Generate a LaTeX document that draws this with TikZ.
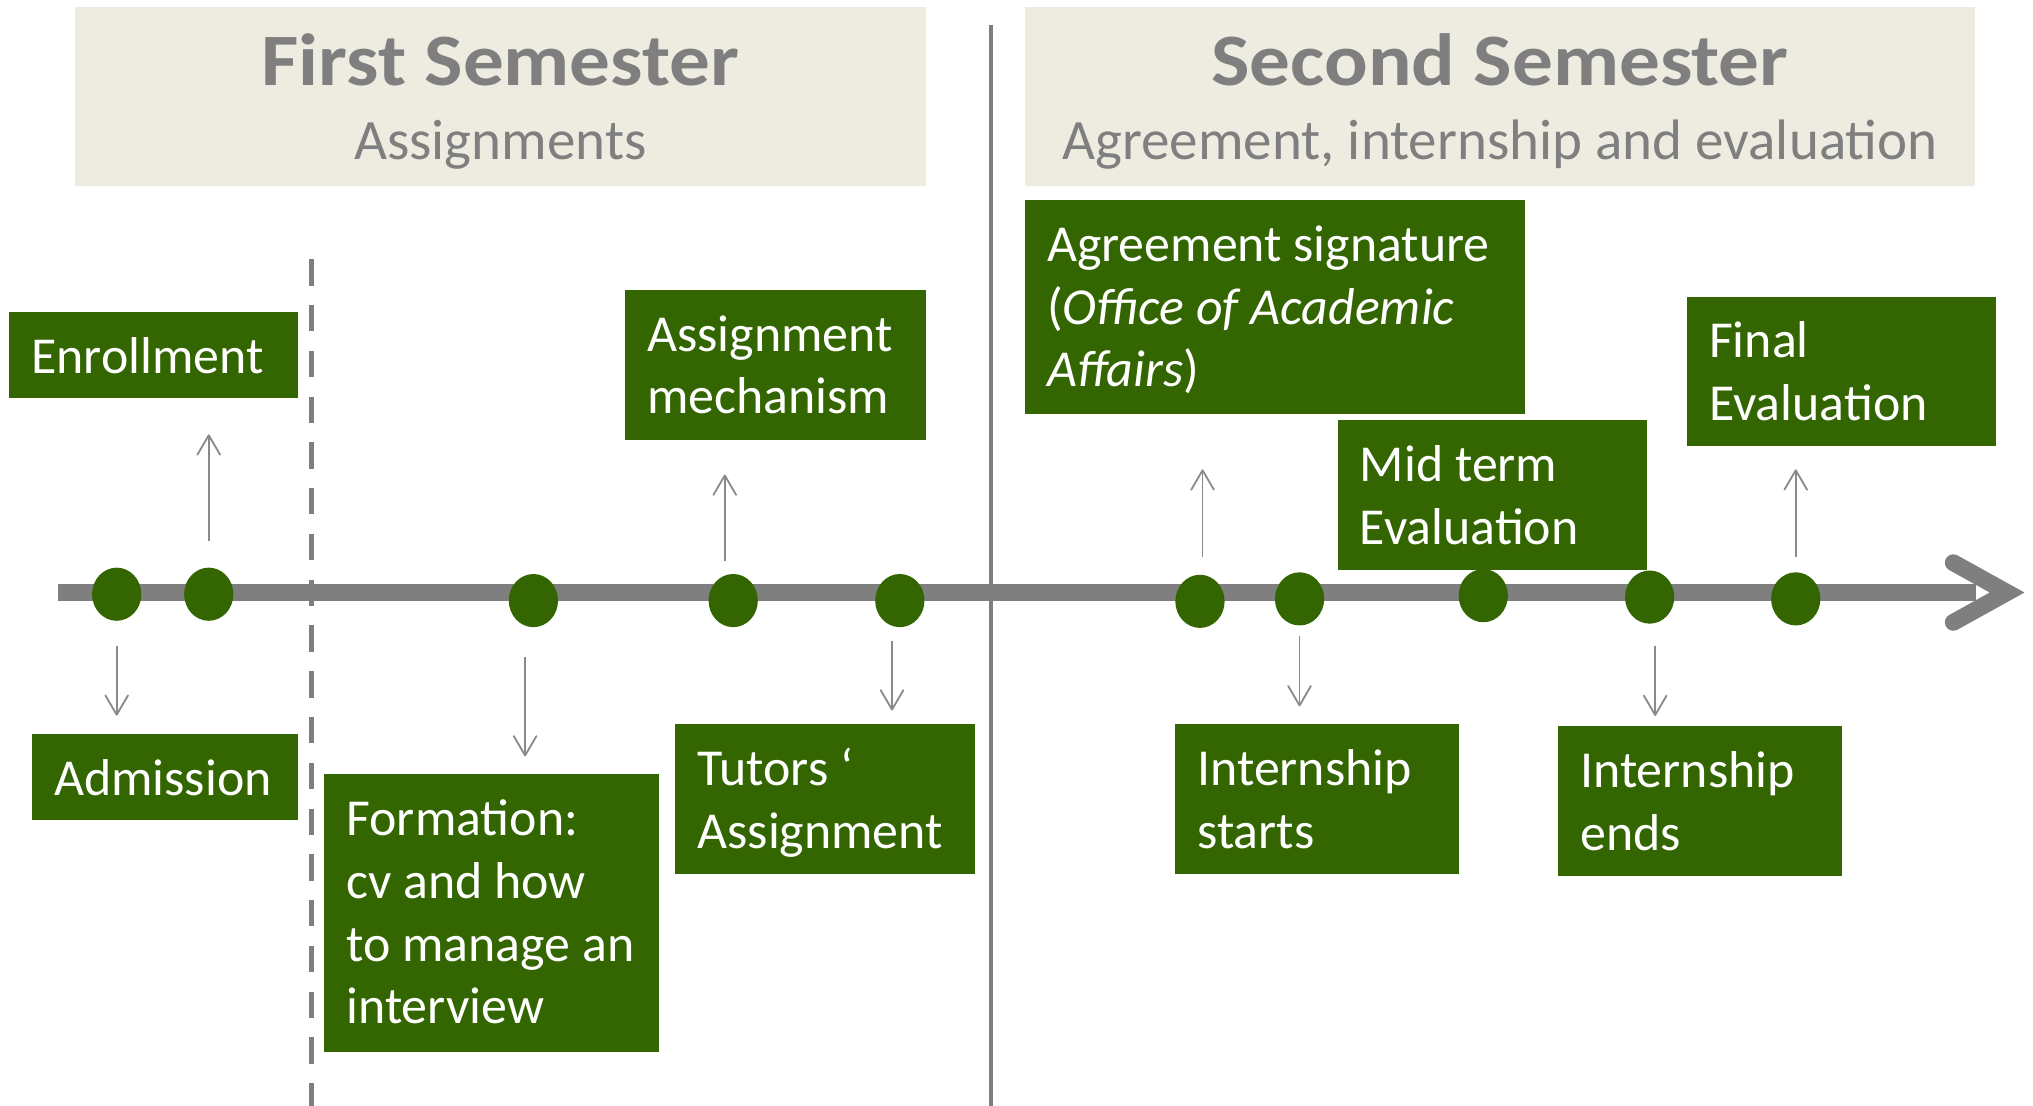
\documentclass[tikz,border=0pt]{standalone}
\usepackage{fontspec}
\setmainfont{Carlito}
\newfontfamily\titlefont{Carlito}[FakeStretch=1.1]
\usetikzlibrary{arrows.meta,shapes.geometric}
\definecolor{grn}{HTML}{336600}
\definecolor{tgray}{HTML}{7F7F7F}
\definecolor{agray}{HTML}{8A8A8A}
\definecolor{hdrbg}{HTML}{EEECE1}
% text block: width (bp), lines
\newcommand\gtext[2]{\vtop{\hsize=#1bp\relax\raggedright\leftskip=17bp\relax\parindent=0pt\relax #2\par}}
\newcommand\htext[3]{\vtop{\hsize=#1bp\relax\centering\parindent=0pt\relax
  {\titlefont\bfseries\fontsize{57bp}{57bp}\selectfont #2\par}%
  {\fontsize{44bp}{57.5bp}\selectfont #3\par}}}
\begin{document}
\begin{tikzpicture}[x=1bp,y=-1bp,
  gbox/.style={fill=grn,text=white,inner sep=0pt,anchor=north west,
    font=\fontsize{40bp}{48.5bp}\selectfont,text height=47bp,text depth=#1},
  hdr/.style={fill=hdrbg,text=tgray,inner sep=0pt,anchor=north west,
    text height=60bp,text depth=77.9bp},
  dot/.style={ellipse,fill=grn,inner sep=0pt,minimum width=38bp,minimum height=41bp},
  conn/.style={draw=agray,line width=1.4bp,-{Straight Barb[length=15bp,width=17.5bp,line width=1.4bp,round]}},
  axis/.style={draw=tgray,line width=13.5bp}]
\useasboundingbox (0,0) rectangle (1568,853);

% headers
\node[hdr] (h1) at (57.5,5.4) {\htext{656.5}{First Semester}{Assignments}};
\node[hdr] (h2) at (790.4,5.4) {\htext{732.6}{Second Semester}{Agreement, internship and evaluation}};

% separators
\draw[tgray,line width=4bp,dash pattern=on 20.3bp off 15bp] (240,200) -- (240,853);
\draw[tgray,line width=3bp] (764,19) -- (764,853);

% timeline
\coordinate (tl0) at (45,457);
\coordinate (tl1) at (1524,457);
\draw[axis] (tl0) -- (tl1);
\draw[tgray,line width=13bp,line cap=round,line join=miter] (1506.5,434) -- (1548,457) -- (1506.5,480);

% dots
\node[dot] (d1) at (90,458.3) {};
\node[dot] (d2) at (161,458.3) {};
\node[dot] (d3) at (411.4,463.2) {};
\node[dot] (d4) at (565.5,463.2) {};
\node[dot] (d5) at (694,463.2) {};
\node[dot] (d6) at (925.5,463.8) {};
\node[dot] (d7) at (1002.3,461.9) {};
\node[dot] (d8) at (1144,459.4) {};
\node[dot] (d9) at (1272.3,460.5) {};
\node[dot] (d10) at (1385,461.9) {};

% boxes
\node[gbox=19.1bp] (enr) at (7,240.7) {\gtext{223}{Enrollment}};
\node[gbox=19.4bp] (adm) at (24.5,566) {\gtext{205.5}{Admission}};
\node[gbox=167.4bp] (frm) at (250,597) {\gtext{258.2}{Formation:\\cv and how\\to manage an\\interview}};
\node[gbox=68.6bp] (asg) at (482,223.6) {\gtext{232}{Assignment\\mechanism}};
\node[gbox=68.1bp] (tut) at (520.7,558.4) {\gtext{231.1}{Tutors ‘\\Assignment}};
\node[gbox=117.6bp] (agr) at (790.4,154.2) {\gtext{385.3}{Agreement signature\\(\textit{Office of Academic}\\\textit{Affairs})}};
\node[gbox=68.3bp] (ist) at (906.3,558.4) {\gtext{218.9}{Internship\\starts}};
\node[gbox=68.3bp] (mid) at (1031.7,324) {\gtext{238.3}{Mid term\\Evaluation}};
\node[gbox=68.4bp] (ien) at (1201.6,560) {\gtext{218.9}{Internship\\ends}};
\node[gbox=68bp] (fin) at (1301,228.5) {\gtext{238}{Final\\Evaluation}};

% connector end points
\coordinate (enrS) at (161,417.5);  \coordinate (enrE) at (161,335);
\coordinate (asgS) at (559,433);    \coordinate (asgE) at (559,366);
\coordinate (agrS) at (927.5,429.3);\coordinate (agrE) at (927.5,362);
\coordinate (finS) at (1385,429.3); \coordinate (finE) at (1385,362);
\coordinate (admS) at (90,498);     \coordinate (admE) at (90,552);
\coordinate (frmS) at (405,507);    \coordinate (frmE) at (405,583.4);
\coordinate (tutS) at (688,494);    \coordinate (tutE) at (688,548);
\coordinate (istS) at (1002.3,490.4);\coordinate (istE) at (1002.3,544.8);
\coordinate (ienS) at (1276.6,498); \coordinate (ienE) at (1276.6,552.2);

\draw[conn] (enrS) -- (enrE);
\draw[conn] (asgS) -- (asgE);
\draw[conn] (agrS) -- (agrE);
\draw[conn] (finS) -- (finE);
\draw[conn] (admS) -- (admE);
\draw[conn] (frmS) -- (frmE);
\draw[conn] (tutS) -- (tutE);
\draw[conn] (istS) -- (istE);
\draw[conn] (ienS) -- (ienE);
\end{tikzpicture}
\end{document}
